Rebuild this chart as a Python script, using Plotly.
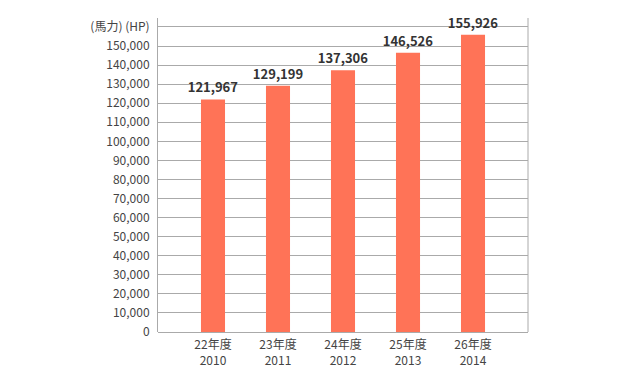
import plotly.graph_objects as go

categories = ["22年度<br>2010", "23年度<br>2011", "24年度<br>2012", "25年度<br>2013", "26年度<br>2014"]
values = [121967, 129199, 137306, 146526, 155926]
tick_vals = list(range(0, 160001, 10000))
tick_text = [f"{v:,}" for v in tick_vals[:-1]] + ["(馬力) (HP)"]

font_family = "Noto Sans CJK JP, Noto Sans, sans-serif"

fig = go.Figure(
    go.Bar(
        x=list(range(len(categories))),
        y=values,
        width=0.37,
        marker=dict(color="#FF7357", line=dict(width=0)),
        text=[f"{v:,}" for v in values],
        textposition="outside",
        constraintext="none",
        cliponaxis=False,
        textfont=dict(family=font_family, size=13, color="#333333", weight="bold"),
    )
)

fig.update_layout(
    width=640,
    height=381,
    margin=dict(l=158, r=112, t=18, b=49),
    paper_bgcolor="white",
    plot_bgcolor="white",
    showlegend=False,
    font=dict(family=font_family, size=12, color="#444444"),
    xaxis=dict(
        tickvals=list(range(len(categories))),
        ticktext=categories,
        range=[-0.846, 4.846],
        showgrid=False,
        zeroline=False,
        showline=False,
        ticks="",
        automargin=False,
        ticklabelstandoff=4,
        tickfont=dict(size=12, color="#444444"),
    ),
    yaxis=dict(
        range=[0, 164700],
        tickvals=tick_vals,
        ticktext=tick_text,
        showgrid=True,
        gridcolor="#AAAAAA",
        gridwidth=1,
        zeroline=True,
        zerolinecolor="#AAAAAA",
        zerolinewidth=1,
        showline=True,
        linecolor="#AAAAAA",
        linewidth=1,
        ticks="",
        automargin=False,
        ticklabelstandoff=5,
        tickfont=dict(size=12, color="#444444"),
    ),
    shapes=[
        dict(type="line", xref="paper", yref="paper", x0=1, x1=1, y0=0, y1=1,
             line=dict(color="#AAAAAA", width=1)),
    ],
)

fig.write_html(
    "out.html",
    config={"displayModeBar": False},
    post_script="document.body.style.margin='0';",
)
